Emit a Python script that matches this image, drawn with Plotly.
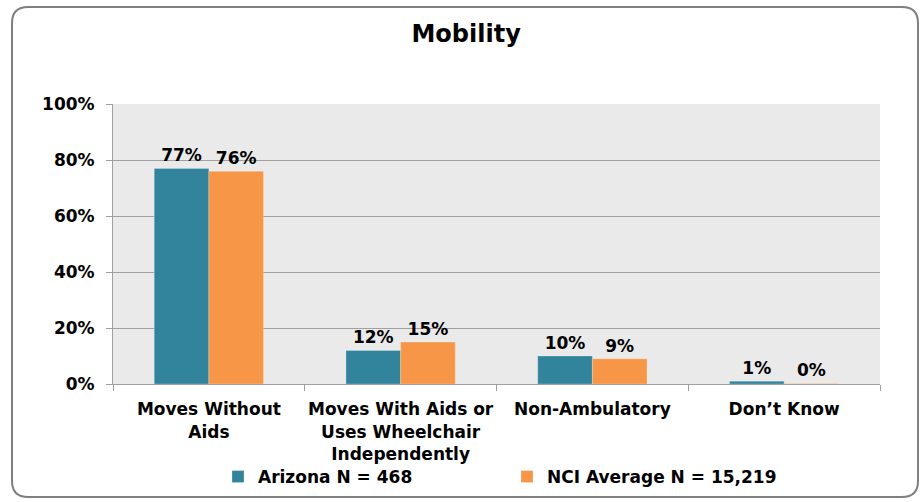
import plotly.graph_objects as go

categories = [
    "Moves Without<br>Aids",
    "Moves With Aids or<br>Uses Wheelchair<br>Independently",
    "Non-Ambulatory",
    "Don\u2019t Know",
]
arizona = [77, 12, 10, 1]
nci_avg = [76, 15, 9, 0.2]
series_names = ["Arizona N = 468", "NCI Average N = 15,219"]
y_ticks = [0, 20, 40, 60, 80, 100]

W, H = 923, 502
L, R, T, B = 113, 43, 104, 118
FONT = "DejaVu Sans"


def px_x(p):
    return (p - L) / (W - L - R)


def px_y(p):
    return (H - B - p) / (H - T - B)


fig = go.Figure()
for name, vals, col in [(series_names[0], arizona, "#31849B"),
                        (series_names[1], nci_avg, "#F79646")]:
    fig.add_trace(go.Bar(
        x=categories, y=vals, name=name,
        marker=dict(color=col, line=dict(color="rgba(255,255,255,0.5)", width=0.5)),
        text=[f"{round(v)}%" for v in vals],
        textposition="outside",
        textfont=dict(family=FONT, size=17, color="black", weight="bold"),
        cliponaxis=False,
    ))

# rounded chart border
x0, x1, y0, y1, r = 12, 918, 7, 497, 16
path = (f"M {px_x(x0 + r)} {px_y(y0)} L {px_x(x1 - r)} {px_y(y0)} "
        f"Q {px_x(x1)} {px_y(y0)} {px_x(x1)} {px_y(y0 + r)} "
        f"L {px_x(x1)} {px_y(y1 - r)} Q {px_x(x1)} {px_y(y1)} {px_x(x1 - r)} {px_y(y1)} "
        f"L {px_x(x0 + r)} {px_y(y1)} Q {px_x(x0)} {px_y(y1)} {px_x(x0)} {px_y(y1 - r)} "
        f"L {px_x(x0)} {px_y(y0 + r)} Q {px_x(x0)} {px_y(y0)} {px_x(x0 + r)} {px_y(y0)} Z")
fig.add_shape(type="path", path=path, xref="paper", yref="paper",
              line=dict(color="#7F7F7F", width=2), layer="below")

fig.update_layout(
    width=W, height=H,
    margin=dict(l=L, r=R, t=T, b=B, autoexpand=False),
    paper_bgcolor="white",
    plot_bgcolor="#EAEAEA",
    barmode="group",
    bargap=0.43,
    bargroupgap=0,
    font=dict(family=FONT, size=17, color="black"),
    title=dict(text="<b>Mobility</b>", x=0.505, xanchor="center",
               y=1 - 34 / H, yanchor="middle",
               font=dict(family=FONT, size=24, color="black")),
    legend=dict(orientation="h", x=px_x(218), xanchor="left", y=px_y(477), yanchor="middle",
                font=dict(family=FONT, size=17, color="black", weight="bold"),
                entrywidth=244, itemwidth=30, bgcolor="rgba(0,0,0,0)"),
    showlegend=True,
)
fig.update_xaxes(
    showline=True, linecolor="#A0A0A0", linewidth=1,
    ticks="outside", tickson="boundaries", ticklen=6, tickcolor="#A0A0A0",
    tickfont=dict(family=FONT, size=17, color="black", weight="bold"),
    tickangle=0, automargin=False, ticklabelstandoff=10,
    showgrid=False,
)
fig.update_yaxes(
    range=[0, 100], tickvals=y_ticks, ticktext=[f"{v}%" for v in y_ticks],
    showline=True, linecolor="#A0A0A0", linewidth=1,
    ticks="outside", ticklen=6, tickcolor="#A0A0A0", automargin=False,
    ticklabelstandoff=8,
    showgrid=True, gridcolor="#A0A0A0", gridwidth=1, zeroline=False,
    tickfont=dict(family=FONT, size=17, color="black", weight="bold"),
)

fig.write_html("out.html", config={"displayModeBar": False},
               post_script="document.body.style.margin='0';")
